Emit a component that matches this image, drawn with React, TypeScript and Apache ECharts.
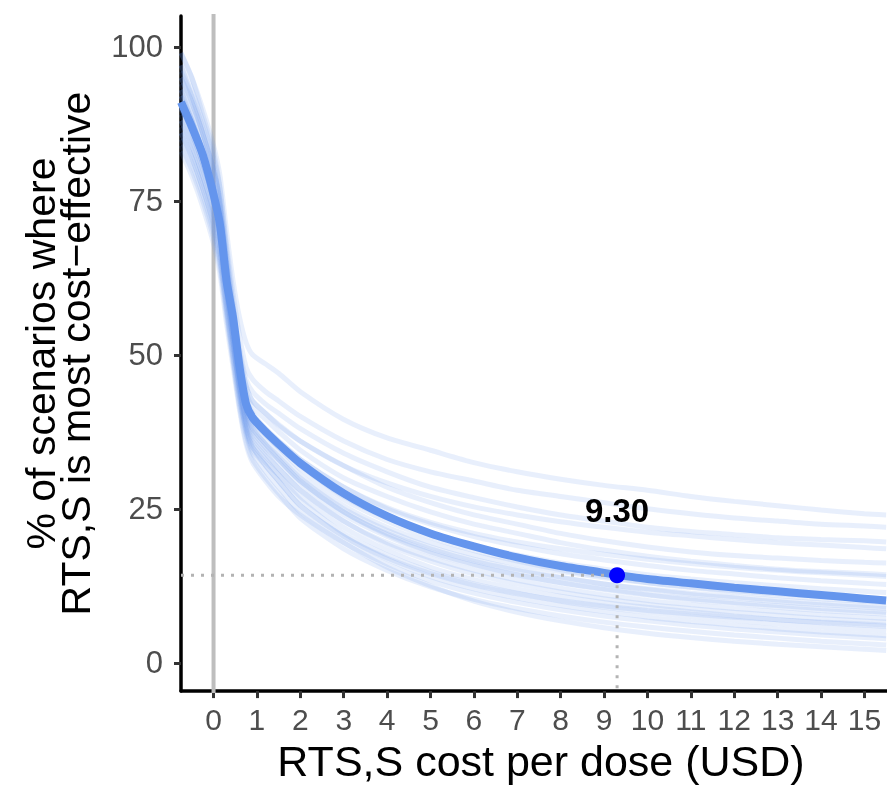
import React, { useEffect, useRef } from "react";
import * as echarts from "echarts";

// RTS,S cost per dose (USD) sample points
const costs = [-0.75, -0.5, -0.25, 0, 0.15, 0.3, 0.45, 0.6, 0.75, 0.9, 1.2, 1.5, 2, 3, 4, 5, 6, 7, 8, 9, 10, 11, 12, 13, 14, 15, 15.5];

// median curve: % of scenarios where RTS,S is most cost-effective
const medianPct = [91, 87, 82.5, 76, 71, 62, 56, 48, 42, 39.8, 37.5, 35.5, 32.4, 27.5, 23.8, 21, 18.9, 17.1, 15.7, 14.6, 13.6, 12.9, 12.2, 11.6, 11, 10.4, 10.1];

// individual scenario curves (faint)
const lineA = [99, 95, 90, 84, 79, 70, 62, 56, 52, 50, 48.5, 47, 44, 39.5, 36.5, 34.5, 32.5, 31, 29.8, 28.8, 28, 27, 26.2, 25.5, 24.8, 24.2, 24];
const lineB = [97, 93, 88, 82, 77, 68, 60, 53, 48, 46, 44, 42.5, 40, 36, 33, 31, 29.5, 28, 27, 26, 25, 24.2, 23.5, 23, 22.5, 22.2, 22];
const lineC = [95, 91, 86, 80, 75, 66, 58, 51, 46, 44, 42, 40.5, 38, 34, 31, 28.5, 26.8, 25.3, 24, 23, 22, 21.3, 20.8, 20.3, 20, 19.8, 19.6];
const lineD = [93, 89, 84, 78, 73, 64, 57, 50, 45, 42.5, 40.5, 38.5, 36, 32, 28.5, 26, 24, 22.5, 21, 19.8, 18.8, 18, 17.4, 17, 16.6, 16.3, 16.2];
const lineE = [96, 92, 87, 81, 74, 65, 57, 49, 44, 41.5, 39.5, 37.5, 34.5, 30, 27, 24.5, 22.5, 21, 19.5, 18.3, 17.3, 16.5, 15.8, 15.2, 14.8, 14.5, 14.3];
const lineF = [92, 88, 83, 77, 72, 63, 55, 47, 42, 40, 38, 36, 33, 28.5, 25, 22.5, 20.5, 19, 17.7, 16.7, 15.8, 15, 14.4, 13.8, 13.3, 12.9, 12.7];
const lineG = [90, 86, 81, 75, 70, 61, 54, 46.5, 41, 39, 37, 35, 32, 27, 23.5, 21, 19, 17.5, 16.2, 15.2, 14.3, 13.6, 13, 12.5, 12, 11.6, 11.4];
const lineH = [88, 84, 79, 73, 68, 60, 53, 46, 41, 38.5, 36, 34, 30.5, 25.5, 22, 19.5, 17.5, 16, 14.8, 13.8, 13, 12.3, 11.7, 11.2, 10.8, 10.4, 10.2];
const lineI = [94, 90, 85, 79, 73, 63, 55, 47, 42, 39.5, 37, 35, 31.5, 26.5, 23, 20.3, 18.2, 16.5, 15.1, 14, 13, 12.2, 11.5, 10.9, 10.4, 10, 9.8];
const lineJ = [86, 82, 77, 71, 66, 58, 51, 45, 40, 37.5, 35, 33, 29.5, 24.5, 21, 18.5, 16.5, 15, 13.8, 12.8, 12, 11.3, 10.7, 10.2, 9.7, 9.3, 9.1];
const lineK = [91, 87, 82, 76, 71, 62, 54, 46, 40.5, 38, 35.5, 33.5, 30, 25, 21.5, 18.8, 16.8, 15.2, 13.9, 12.8, 11.9, 11.1, 10.5, 9.9, 9.4, 9, 8.8];
const lineL = [89, 85, 80, 74, 69, 61, 53, 45, 39.5, 37, 34.5, 32.5, 29, 24, 20.5, 17.8, 15.8, 14.2, 13, 12, 11.1, 10.4, 9.8, 9.3, 8.8, 8.4, 8.2];
const lineM = [97, 92, 86, 80, 74, 64, 55, 47, 41, 38, 35.5, 33, 29.5, 24.5, 20.8, 18, 16, 14.3, 13, 11.9, 11, 10.2, 9.6, 9, 8.5, 8.1, 7.9];
const lineN = [87, 83, 78, 72, 67, 59, 52, 44.5, 39, 36, 33.5, 31.5, 28, 23, 19.5, 17, 15, 13.4, 12.1, 11, 10.1, 9.4, 8.8, 8.3, 7.8, 7.4, 7.2];
const lineO = [92, 88, 83, 77, 71, 62, 53, 45, 39, 36.5, 34, 31.5, 28, 23, 19.2, 16.5, 14.4, 12.8, 11.5, 10.4, 9.5, 8.8, 8.2, 7.7, 7.2, 6.8, 6.6];
const lineP = [85, 81, 76, 70, 65, 57, 50, 43, 38, 35, 32.5, 30.5, 27, 22, 18.3, 15.5, 13.5, 12, 10.8, 9.8, 9, 8.3, 7.6, 7, 6.5, 6.1, 5.9];
const lineQ = [90, 86, 81, 75, 69, 60, 52, 44, 38.5, 35.5, 33, 30.5, 26.5, 21, 17.5, 14.8, 12.8, 11.3, 10, 9, 8.2, 7.5, 6.9, 6.3, 5.8, 5.4, 5.2];
const lineR = [88, 84, 79, 73, 67, 58, 50, 43, 37.5, 34.5, 32, 29.5, 25.5, 20.5, 16.8, 14, 12, 10.5, 9.3, 8.3, 7.4, 6.7, 6.1, 5.5, 5, 4.6, 4.4];
const lineS = [84, 80, 75, 69, 64, 56, 49, 42, 37, 34, 31, 28.5, 24.5, 19.5, 16, 13.3, 11.3, 9.8, 8.6, 7.6, 6.8, 6.1, 5.5, 5, 4.5, 4.1, 3.9];
const lineT = [86, 82, 77, 71, 65, 57, 49, 41.5, 36, 33, 30, 27.5, 23.5, 18.5, 15, 12.3, 10.3, 8.8, 7.6, 6.6, 5.8, 5.1, 4.5, 4, 3.5, 3.1, 2.9];
const lineU = [83, 79, 74, 68, 63, 55, 48, 41, 35.5, 32.5, 29.5, 27, 24, 19.5, 15.5, 12.5, 10, 8.2, 6.8, 5.7, 4.8, 4.1, 3.5, 3, 2.6, 2.2, 2];
const lineV = [93, 88, 83, 76, 70, 61, 52, 44, 38, 35, 32, 29.5, 25.5, 20.5, 17, 14.5, 12.6, 11.2, 10.1, 9.2, 8.5, 7.9, 7.4, 7, 6.6, 6.3, 6.1];
const lineW = [95, 91, 86, 80, 75, 65, 56, 48, 43, 40.5, 38, 36, 33, 28.5, 25.2, 22.8, 21, 19.6, 18.5, 17.6, 16.8, 16.1, 15.5, 15, 14.6, 14.2, 14];
const lineX = [99, 95, 89, 83, 77, 67, 58, 50, 45, 42.5, 40.5, 38.7, 36, 32, 29.2, 27, 25.3, 24, 22.9, 22, 21.2, 20.6, 20, 19.5, 19.1, 18.7, 18.5];

const scenarioLines = [lineA, lineB, lineC, lineD, lineE, lineF, lineG, lineH, lineI, lineJ, lineK, lineL, lineM, lineN, lineO, lineP, lineQ, lineR, lineS, lineT, lineU, lineV, lineW, lineX];

// threshold annotation
const thresholdCost = 9.3;
const thresholdPct = 14.2;
const thresholdLabel = "9.30";
const labelPct = 24.7;

// axes
const xTicks = [0, 1, 2, 3, 4, 5, 6, 7, 8, 9, 10, 11, 12, 13, 14, 15];
const yTicks = [0, 25, 50, 75, 100];
const xMin = -0.75;
const xMax = 15.52;
const yMin = -4.6;
const yMax = 105;
const refCost = 0;

const BLUE = "#6495ED";
const FONT = "Liberation Sans, Arial, sans-serif";

export default function App() {
  const ref = useRef<HTMLDivElement>(null);
  useEffect(() => {
    if (!ref.current) return;
    const chart = echarts.init(ref.current, null, { renderer: "svg" });
    const pair = (ys: number[]) => costs.map((c, i) => [c, ys[i]]);
    const series: any[] = [];
    series.push({
      type: "line",
      data: [[refCost, yMin - 10], [refCost, yMax + 10]],
      symbol: "none",
      silent: true,
      lineStyle: { color: "#bebebe", width: 4 },
      z: 1,
    });
    scenarioLines.forEach((ys) => {
      series.push({
        type: "line",
        data: pair(ys),
        symbol: "none",
        smooth: 0.25,
        silent: true,
        lineStyle: { color: BLUE, width: 5, opacity: 0.15 },
        z: 2,
      });
    });
    series.push({
      type: "line",
      data: pair(medianPct),
      symbol: "none",
      smooth: 0.25,
      silent: true,
      lineStyle: { color: BLUE, width: 8, opacity: 1 },
      z: 3,
    });
    series.push({
      type: "line",
      data: [[xMin, thresholdPct], [thresholdCost, thresholdPct]],
      symbol: "none",
      silent: true,
      lineStyle: { color: "#b3b3b3", width: 3, type: [3, 7] },
      z: 4,
    });
    series.push({
      type: "line",
      data: [[thresholdCost, thresholdPct], [thresholdCost, yMin]],
      symbol: "none",
      silent: true,
      lineStyle: { color: "#b3b3b3", width: 3, type: [3, 7] },
      z: 4,
    });
    series.push({
      type: "scatter",
      data: [[thresholdCost, thresholdPct]],
      symbolSize: 16,
      itemStyle: { color: "#0000ff", opacity: 1 },
      silent: true,
      z: 5,
    });
    series.push({
      type: "scatter",
      data: [[thresholdCost, labelPct]],
      symbolSize: 2,
      itemStyle: { color: "rgba(255,255,255,0)", opacity: 1 },
      silent: true,
      label: {
        show: true,
        position: "inside",
        formatter: thresholdLabel,
        color: "#000000",
        textBorderWidth: 0,
        fontSize: 33,
        fontWeight: "bold",
        fontFamily: FONT,
      },
      z: 6,
    });

    chart.setOption({
      animation: false,
      grid: { left: 181, right: 0, top: 16, bottom: 94 },
      xAxis: {
        type: "value",
        min: xMin,
        max: xMax,
        name: "RTS,S cost per dose (USD)",
        nameLocation: "middle",
        nameGap: 45,
        nameTextStyle: { fontSize: 43, color: "#000", fontFamily: FONT, padding: [0, 0, 0, 14] },
        axisLine: { onZero: false, lineStyle: { color: "#000", width: 3.5 } },
        axisTick: { customValues: xTicks, length: 7, lineStyle: { color: "#333", width: 3 } },
        axisLabel: { customValues: xTicks, fontSize: 30, color: "#4d4d4d", margin: 13, fontFamily: FONT },
        splitLine: { show: false },
      },
      yAxis: {
        type: "value",
        min: yMin,
        max: yMax,
        name: "% of scenarios where\nRTS,S is most cost\u2212effective",
        nameLocation: "middle",
        nameRotate: 90,
        nameGap: 88,
        nameTextStyle: { fontSize: 41, color: "#000", fontFamily: FONT, lineHeight: 35 },
        axisLine: { onZero: false, lineStyle: { color: "#000", width: 3.5 } },
        axisTick: { customValues: yTicks, length: 7, lineStyle: { color: "#333", width: 3 } },
        axisLabel: { customValues: yTicks, fontSize: 31, color: "#4d4d4d", margin: 18, fontFamily: FONT },
        splitLine: { show: false },
      },
      series,
    });
    return () => chart.dispose();
  }, []);
  return <div ref={ref} style={{ position: "fixed", left: 0, top: 0, width: 887, height: 787 }} />;
}
